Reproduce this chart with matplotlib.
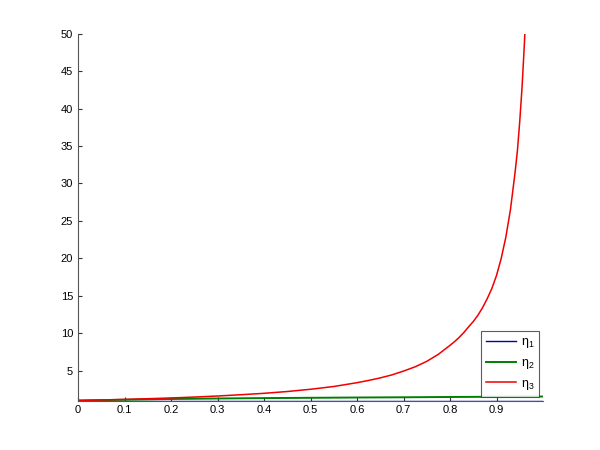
import matplotlib
matplotlib.use("Agg")
import matplotlib.pyplot as plt

# values
x_blue = [0.0, 1.0]
eta1 = [1.0, 1.0]

x_green = [0.0, 0.1, 0.2, 0.3, 0.4, 0.5, 0.6, 0.7, 0.8, 0.9, 1.0]
eta2 = [1.0, 1.1, 1.2, 1.27, 1.32, 1.36, 1.40, 1.43, 1.47, 1.50, 1.53]

x_red = [0.0, 0.05, 0.1, 0.15, 0.2, 0.25, 0.3, 0.35, 0.4, 0.45, 0.5, 0.55,
         0.6, 0.625, 0.65, 0.675, 0.7, 0.725, 0.75, 0.775, 0.8, 0.81, 0.82,
         0.83, 0.84, 0.85, 0.86, 0.87, 0.88, 0.89, 0.9, 0.91,
         0.92, 0.93, 0.94, 0.945, 0.95, 0.955, 0.96, 0.962]
eta3 = [1.0, 1.07, 1.15, 1.24, 1.34, 1.46, 1.60, 1.77, 1.96, 2.20, 2.50, 2.87,
        3.38, 3.68, 4.02, 4.42, 4.93, 5.50, 6.23, 7.17, 8.37, 8.88, 9.45,
        10.1, 10.84, 11.55, 12.39, 13.4, 14.6, 15.96, 17.7, 19.95,
        22.8, 26.5, 31.5, 34.4, 38.3, 42.9, 48.7, 51.4]

xticks = [0, 0.1, 0.2, 0.3, 0.4, 0.5, 0.6, 0.7, 0.8, 0.9]
yticks = [5, 10, 15, 20, 25, 30, 35, 40, 45, 50]

plt.rcParams['font.family'] = ['Liberation Sans', 'DejaVu Sans']

fig = plt.figure(figsize=(6, 4.5), dpi=100)
ax = fig.add_axes([0.13, 0.11, 0.775, 0.815])

ax.plot(x_blue, eta1, color='#0000b0', lw=1.0, label=r'$\mathregular{\eta_1}$')
ax.plot(x_green, eta2, color='#008000', lw=1.4, label=r'$\mathregular{\eta_2}$')
ax.plot(x_red, eta3, color='#f00000', lw=1.1, label=r'$\mathregular{\eta_3}$')

ax.set_xlim(0, 1)
ax.set_ylim(1, 50)
ax.set_xticks(xticks)
ax.set_xticklabels([('%g' % t) for t in xticks])
ax.set_yticks(yticks)
ax.tick_params(direction='in', length=3, labelsize=8, color='#333333')
ax.spines['top'].set_visible(False)
ax.spines['right'].set_visible(False)
for s in ['left', 'bottom']:
    ax.spines[s].set_color('#555555')
    ax.spines[s].set_linewidth(0.8)

leg = ax.legend(loc='lower right', fontsize=9, frameon=True, fancybox=False,
                edgecolor='#333333', handlelength=2.4, borderaxespad=0.3,
                labelspacing=0.55, borderpad=0.4, handletextpad=0.4)
leg.get_frame().set_linewidth(0.8)

fig.savefig('out.png', dpi=100)
